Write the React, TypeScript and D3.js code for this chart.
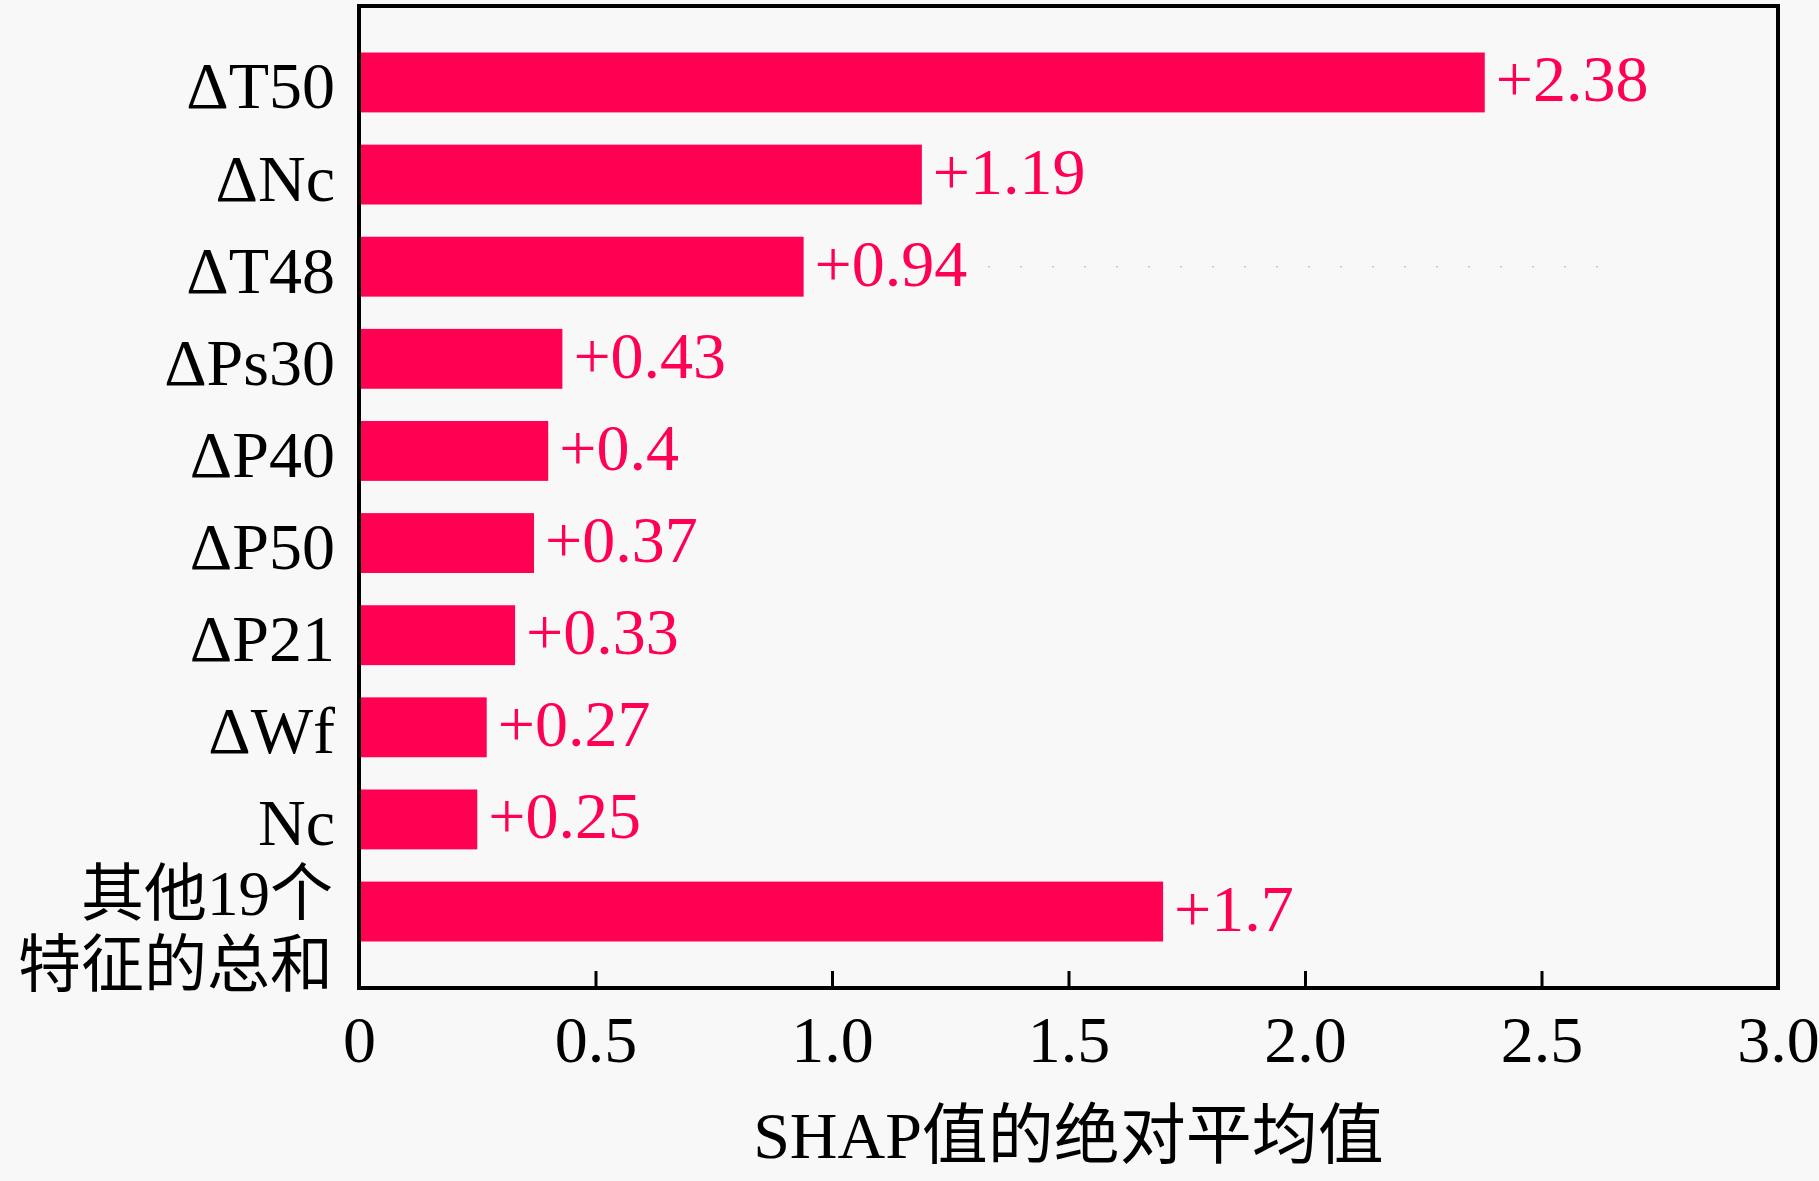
import React, { useEffect, useRef } from "react";
import * as d3 from "d3";

const features = [
  "ΔT50",
  "ΔNc",
  "ΔT48",
  "ΔPs30",
  "ΔP40",
  "ΔP50",
  "ΔP21",
  "ΔWf",
  "Nc",
  "其他19个\n特征的总和",
];
const values = [2.38, 1.19, 0.94, 0.43, 0.4, 0.37, 0.33, 0.27, 0.25, 1.7];
const valueLabels = ["+2.38", "+1.19", "+0.94", "+0.43", "+0.4", "+0.37", "+0.33", "+0.27", "+0.25", "+1.7"];
const tickValues = [0, 0.5, 1, 1.5, 2, 2.5, 3];
const tickLabels = ["0", "0.5", "1.0", "1.5", "2.0", "2.5", "3.0"];
const xTitle = "SHAP值的绝对平均值";

// faint dotted guide that shows through in the ΔT48 row
const guideRow = "ΔT48";
const guideExtent = [1.33, 2.62];

const width = 1819;
const height = 1181;
const margin = { top: 6, right: 41, bottom: 193, left: 359 };
const barColor = "#ff0052";
const font = "'Liberation Serif', 'Noto Sans CJK SC', serif";
const fontSize = 66;

export default function App() {
  const svgRef = useRef<SVGSVGElement | null>(null);

  useEffect(() => {
    const svg = d3.select(svgRef.current);
    svg.selectAll("*").remove();

    const x = d3
      .scaleLinear()
      .domain([0, 3])
      .range([margin.left, width - margin.right]);

    const y = d3
      .scaleBand()
      .domain(features)
      .range([margin.top, height - margin.bottom])
      .paddingInner(0.35)
      .paddingOuter(0.505);

    svg
      .append("rect")
      .attr("width", width)
      .attr("height", height)
      .attr("fill", "#f8f8f8");

    svg
      .append("line")
      .attr("x1", x(guideExtent[0]))
      .attr("x2", x(guideExtent[1]))
      .attr("y1", (y(guideRow) as number) + y.bandwidth() / 2)
      .attr("y2", (y(guideRow) as number) + y.bandwidth() / 2)
      .attr("stroke", "#c4c4c4")
      .attr("stroke-width", 1.5)
      .attr("stroke-dasharray", "2 30");

    svg
      .append("g")
      .selectAll("rect")
      .data(values)
      .join("rect")
      .attr("x", x(0))
      .attr("y", (_, i) => y(features[i]) as number)
      .attr("width", (d) => x(d) - x(0))
      .attr("height", y.bandwidth())
      .attr("fill", barColor);

    // value labels
    svg
      .append("g")
      .selectAll("text")
      .data(values)
      .join("text")
      .attr("x", (d) => x(d) + 11)
      .attr("y", (_, i) => (y(features[i]) as number) + y.bandwidth() / 2 + 19)
      .attr("fill", barColor)
      .style("font-family", font)
      .style("font-size", `${fontSize}px`)
      .text((_, i) => valueLabels[i]);

    // feature names, the last one is split over two lines
    const names = svg
      .append("g")
      .selectAll("text")
      .data(features)
      .join("text")
      .attr("text-anchor", "end")
      .attr("fill", "#000")
      .style("font-family", font)
      .style("font-size", `${fontSize}px`);

    names.each(function (d) {
      const t = d3.select(this);
      const cy = (y(d) as number) + y.bandwidth() / 2;
      const lines = d.split("\n");
      if (lines.length === 1) {
        t.attr("x", margin.left - 24).attr("y", cy + 26).text(d);
      } else {
        t.style("font-size", "63px");
        lines.forEach((line, k) => {
          t.append("tspan")
            .attr("x", margin.left - 26)
            .attr("y", cy + 3 + k * 71)
            .text(line);
        });
      }
    });

    // bottom axis with inward ticks
    const xAxis = d3
      .axisBottom(x)
      .tickValues(tickValues)
      .tickFormat((_, i) => tickLabels[i])
      .tickSizeInner(-17)
      .tickSizeOuter(0)
      .tickPadding(0);

    const axis = svg
      .append("g")
      .attr("transform", `translate(0, ${height - margin.bottom})`)
      .call(xAxis);
    axis.select(".domain").remove();
    axis.selectAll(".tick line").attr("stroke", "#000").attr("stroke-width", 3);
    axis
      .selectAll(".tick text")
      .attr("y", 74)
      .attr("dy", null)
      .attr("fill", "#000")
      .style("font-family", font)
      .style("font-size", `${fontSize}px`);

    // frame
    svg
      .append("rect")
      .attr("x", margin.left)
      .attr("y", margin.top)
      .attr("width", width - margin.left - margin.right)
      .attr("height", height - margin.top - margin.bottom)
      .attr("fill", "none")
      .attr("stroke", "#000")
      .attr("stroke-width", 4);

    svg
      .append("text")
      .attr("x", (margin.left + width - margin.right) / 2)
      .attr("y", 1158)
      .attr("text-anchor", "middle")
      .attr("fill", "#000")
      .style("font-family", font)
      .style("font-size", `${fontSize}px`)
      .text(xTitle);
  }, []);

  return (
    <svg
      ref={svgRef}
      width={width}
      height={height}
      style={{ position: "absolute", left: 0, top: 0, display: "block" }}
    ></svg>
  );
}
